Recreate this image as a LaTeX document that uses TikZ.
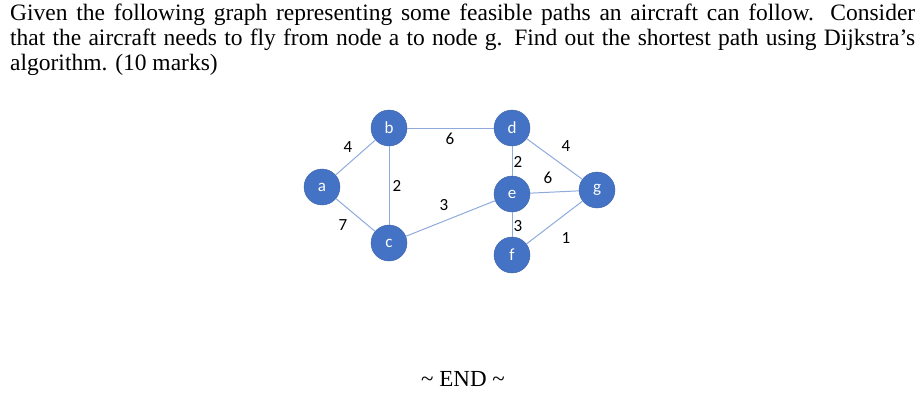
\documentclass[tikz,border=0pt]{standalone}
\usepackage{fontspec}
\setmainfont{Liberation Serif}
\newfontfamily\calib{Carlito}
\definecolor{nodeblue}{HTML}{4472C4}
\definecolor{edgeblue}{HTML}{8FAADC}
\begin{document}
\begin{tikzpicture}[x=1pt,y=-1pt,
  vtx/.style={circle,fill=nodeblue,draw=nodeblue!85!black,line width=0.4pt,minimum size=36pt,inner sep=0pt,text=white,font=\calib\fontsize{17}{19}\selectfont},
  edg/.style={draw=edgeblue,line width=1pt},
  wt/.style={font=\calib\fontsize{17}{19}\selectfont,inner sep=0pt},
  txt/.style={anchor=base west,inner sep=0pt,font=\fontsize{23.5}{26}\selectfont}]
\useasboundingbox (0,0) rectangle (921,405);
\node[txt] (l1) at (10,20) {\hbox to 905pt{Given the following graph representing some feasible paths an aircraft can follow. Consider}};
\node[txt] (l2) at (10,45) {\hbox to 905pt{that the aircraft needs to fly from node a to node g. Find out the shortest path using Dijkstra’s}};
\node[txt] (l3) at (10,70) {algorithm. (10 marks)};
\node[vtx] (a) at (322,187) {a};
\node[vtx] (b) at (389,128) {b};
\node[vtx] (c) at (389,243) {c};
\node[vtx] (d) at (512,128) {d};
\node[vtx] (e) at (512,194) {e};
\node[vtx] (f) at (512,255) {f};
\node[vtx] (g) at (597,190) {g};
\draw[edg] (a) -- (b);
\draw[edg] (a) -- (c);
\draw[edg] (b) -- (c);
\draw[edg] (b) -- (d);
\draw[edg] (c) -- (e);
\draw[edg] (d) -- (e);
\draw[edg] (d) -- (g);
\draw[edg] (e) -- (g);
\draw[edg] (e) -- (f);
\draw[edg] (f) -- (g);
\node[wt] (w1) at (348,147) {4};
\node[wt] (w2) at (343,225) {7};
\node[wt] (w3) at (450,139) {6};
\node[wt] (w4) at (397,186) {2};
\node[wt] (w5) at (444,205) {3};
\node[wt] (w6) at (518,162) {2};
\node[wt] (w7) at (548,178) {6};
\node[wt] (w8) at (566,146) {4};
\node[wt] (w9) at (518,226) {3};
\node[wt] (w10) at (566,238) {1};
\node[anchor=base,inner sep=0pt,font=\fontsize{23}{26}\selectfont] (end) at (463,386) {\char"007E\ END \char"007E};
\end{tikzpicture}
\end{document}
